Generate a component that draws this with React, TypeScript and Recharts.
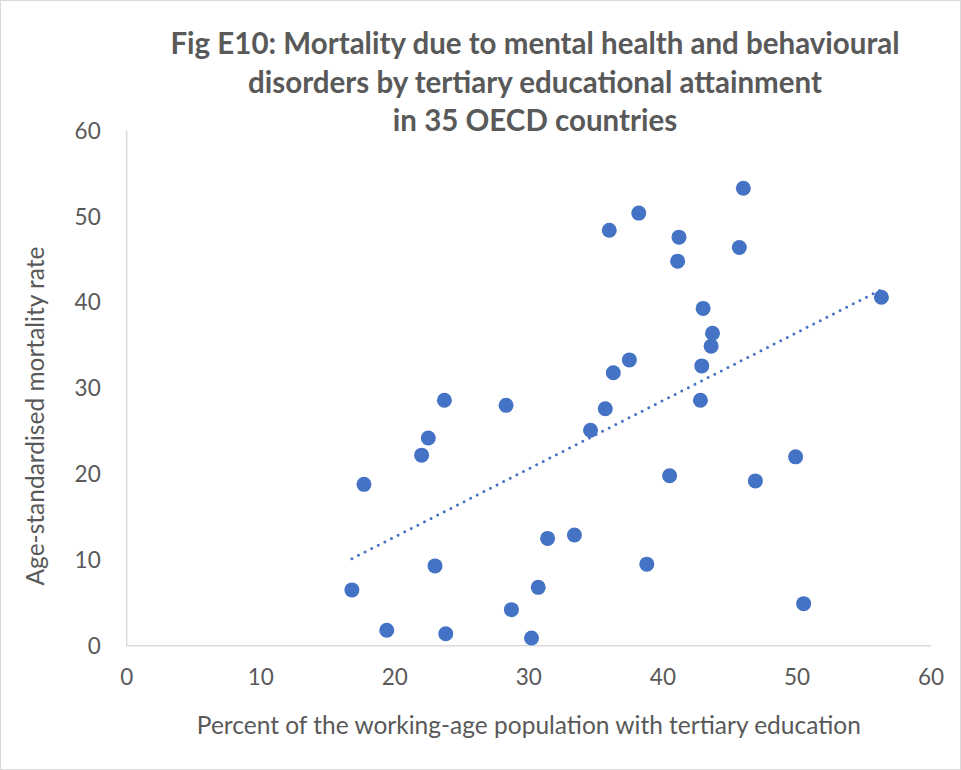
import { ScatterChart, Scatter, XAxis, YAxis, Label } from 'recharts'

// percent of working-age population with tertiary education
const tertiaryPct = [
  16.8, 17.7, 19.4, 22.0, 22.5, 23.0, 23.8, 23.7, 28.3, 28.7, 30.2, 30.7,
  31.4, 33.4, 34.6, 35.7, 36.0, 36.3, 37.5, 38.2, 38.8, 40.5, 41.1, 41.2,
  42.8, 42.9, 43.0, 43.6, 43.7, 45.7, 46.0, 46.9, 49.9, 50.5, 56.3,
]

// age-standardised mortality rate
const mortalityRate = [
  6.5, 18.8, 1.8, 22.2, 24.2, 9.3, 1.4, 28.6, 28.0, 4.2, 0.9, 6.8,
  12.5, 12.9, 25.1, 27.6, 48.4, 31.8, 33.3, 50.4, 9.5, 19.8, 44.8, 47.6,
  28.6, 32.6, 39.3, 34.9, 36.4, 46.4, 53.3, 19.2, 22.0, 4.9, 40.6,
]

const axisTicks = [0, 10, 20, 30, 40, 50, 60]

const titleLines = [
  'Fig E10: Mortality due to mental health and behavioural',
  'disorders by tertiary educational attainment',
  'in 35 OECD countries',
]

const points = tertiaryPct.map((x, i) => ({ x, y: mortalityRate[i] }))

// linear trendline (least squares), like Excel's
function linearTrend(xs: number[], ys: number[]) {
  const n = xs.length
  const mx = xs.reduce((a, b) => a + b, 0) / n
  const my = ys.reduce((a, b) => a + b, 0) / n
  let num = 0
  let den = 0
  xs.forEach((x, i) => {
    num += (x - mx) * (ys[i] - my)
    den += (x - mx) * (x - mx)
  })
  const slope = num / den
  const icpt = my - slope * mx
  const lo = Math.min(...xs)
  const hi = Math.max(...xs)
  return [
    { x: lo, y: icpt + slope * lo },
    { x: hi, y: icpt + slope * hi },
  ]
}

const trend = linearTrend(tertiaryPct, mortalityRate)

const BLUE = '#4472C4'
const GREY = '#595959'
const FONT = 'Lato, "Open Sans", sans-serif'

const tickStyle = { fill: GREY, fontSize: 22.5, fontFamily: FONT }

function YTitle() {
  const cx = 34
  const cy = 416
  return (
    <text
      x={cx}
      y={cy}
      transform={`rotate(-90 ${cx} ${cy})`}
      textAnchor="middle"
      dominantBaseline="central"
      fill={GREY}
      fontSize={24.5}
      fontFamily={FONT}
    >
      Age-standardised mortality rate
    </text>
  )
}

export default function App() {
  return (
    <div
      style={{
        position: 'absolute',
        left: 0,
        top: 0,
        width: 961,
        height: 770,
        background: '#fff',
      }}
    >
      <div
        style={{
          position: 'absolute',
          left: 0,
          top: 24,
          width: 1070,
          textAlign: 'center',
          fontFamily: FONT,
          fontWeight: 700,
          fontSize: 29.5,
          lineHeight: '38.5px',
          color: GREY,
        }}
      >
        {titleLines.map((t) => (
          <div key={t}>{t}</div>
        ))}
      </div>
      <ScatterChart
        width={961}
        height={770}
        margin={{ top: 130.7, right: 30, bottom: 64.3, left: 66.7 }}
      >
        <XAxis
          type="number"
          dataKey="x"
          domain={[0, 60]}
          ticks={axisTicks}
          height={60}
          tickLine={false}
          tickMargin={17}
          axisLine={{ stroke: '#d9d9d9', strokeWidth: 1.5 }}
          tick={tickStyle}
        >
          <Label
            value="Percent of the working-age population with tertiary education"
            position="bottom"
            offset={11}
            fill={GREY}
            fontSize={24.5}
            fontFamily={FONT}
          />
        </XAxis>
        <YAxis
          type="number"
          dataKey="y"
          domain={[0, 60]}
          ticks={axisTicks}
          width={60}
          tickLine={false}
          tickMargin={20}
          axisLine={{ stroke: '#d9d9d9', strokeWidth: 1.5 }}
          tick={tickStyle}
        >
          <Label content={<YTitle />} />
        </YAxis>
        <Scatter
          data={points}
          fill={BLUE}
          isAnimationActive={false}
          shape={(p: any) => <circle cx={p.cx} cy={p.cy} r={7.5} fill={BLUE} />}
        />
        <Scatter
          data={trend}
          isAnimationActive={false}
          line={{
            stroke: BLUE,
            strokeWidth: 3,
            strokeDasharray: '0 7.4',
            strokeLinecap: 'round',
          }}
          shape={() => <g />}
        />
      </ScatterChart>
      <div
        style={{
          position: 'absolute',
          inset: 0,
          border: '1px solid #d9d9d9',
          pointerEvents: 'none',
        }}
      />
    </div>
  )
}
